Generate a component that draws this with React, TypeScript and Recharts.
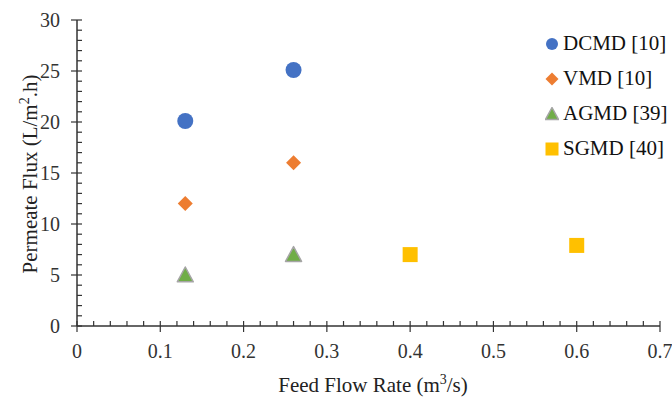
import { ScatterChart, Scatter, XAxis, YAxis, Label } from 'recharts'

const dcmd = [
  { x: 0.13, y: 20.1 },
  { x: 0.26, y: 25.1 },
]
const vmd = [
  { x: 0.13, y: 12 },
  { x: 0.26, y: 16 },
]
const agmd = [
  { x: 0.13, y: 5 },
  { x: 0.26, y: 7 },
]
const sgmd = [
  { x: 0.4, y: 7 },
  { x: 0.6, y: 7.9 },
]

const seriesNames = ['DCMD [10]', 'VMD [10]', 'AGMD [39]', 'SGMD [40]']
const seriesKinds = ['circle', 'diamond', 'triangle', 'square']
const COLORS = ['#4472C4', '#ED7D31', '#70AD47', '#FFC000']

const yTicks = Array.from({ length: 31 }, (_, i) => i)
const xTicks = Array.from({ length: 36 }, (_, i) => Math.round(i * 2) / 100)

const FONT = 'Liberation Serif, DejaVu Serif, Times New Roman, serif'
const AXIS = '#333'

function Marker({ kind, cx, cy, s }: { kind: string; cx: number; cy: number; s: number }) {
  const h = s / 2
  if (kind === 'circle') return <circle cx={cx} cy={cy} r={h} fill={COLORS[0]} />
  if (kind === 'diamond')
    return <polygon points={`${cx},${cy - h} ${cx + h},${cy} ${cx},${cy + h} ${cx - h},${cy}`} fill={COLORS[1]} />
  if (kind === 'triangle')
    return (
      <polygon
        points={`${cx},${cy - h} ${cx + h},${cy + h * 0.85} ${cx - h},${cy + h * 0.85}`}
        fill={COLORS[2]}
        stroke="#A5A5A5"
        strokeWidth={1.5}
        strokeLinejoin="round"
      />
    )
  return <rect x={cx - h} y={cy - h} width={s} height={s} fill={COLORS[3]} />
}

const YTick = ({ x, y, payload }: any) => {
  const v = payload.value
  const major = v % 5 === 0
  return (
    <g>
      <line x1={major ? x - 6 : x} x2={x + 5} y1={y} y2={y} stroke={AXIS} strokeWidth={1.2} />
      {major && (
        <text x={x - 17} y={y} dy={7} textAnchor="end" fontSize={20} style={{ fontFamily: FONT }} fill={AXIS}>
          {v}
        </text>
      )}
    </g>
  )
}

const XTick = ({ x, y, payload }: any) => {
  const v = payload.value
  const major = Math.abs(v * 10 - Math.round(v * 10)) < 1e-6
  return (
    <g>
      <line x1={x} x2={x} y1={y - 5} y2={major ? y + 6 : y} stroke={AXIS} strokeWidth={1.2} />
      {major && (
        <text x={x} y={y + 32} textAnchor="middle" fontSize={20} style={{ fontFamily: FONT }} fill={AXIS}>
          {v === 0 ? '0' : v.toFixed(1)}
        </text>
      )}
    </g>
  )
}

const LegendBox = () => (
  <div
    style={{
      position: 'absolute',
      left: 545,
      top: 26,
      fontFamily: FONT,
      fontSize: 21,
      color: '#111',
    }}
  >
    {seriesNames.map((n, i) => (
      <div key={n} style={{ display: 'flex', alignItems: 'center', height: 35 }}>
        <svg width={14} height={14} style={{ marginRight: 4 }}>
          <Marker kind={seriesKinds[i]} cx={7} cy={7} s={i === 0 ? 12 : 13} />
        </svg>
        <span>{n}</span>
      </div>
    ))}
  </div>
)

const shapeFor = (kind: string, s: number) => (p: any) => <Marker kind={kind} cx={p.cx} cy={p.cy} s={s} />

export default function App() {
  return (
    <div style={{ position: 'absolute', left: 0, top: 0, width: 672, height: 400, background: '#fff', fontFamily: FONT }}>
      <ScatterChart width={672} height={400} margin={{ top: 20, right: 12, bottom: 0, left: 0 }}>
        <XAxis
          type="number"
          dataKey="x"
          domain={[0, 0.7]}
          ticks={xTicks}
          interval={0}
          tickSize={0}
          tickMargin={0}
          tickLine={false}
          tick={<XTick />}
          axisLine={{ stroke: AXIS, strokeWidth: 1.5 }}
          height={74}
        >
          <Label
            content={() => (
              <text x={373} y={392} textAnchor="middle" fontSize={21} style={{ fontFamily: FONT }} fill="#222">
                Feed Flow Rate (m<tspan dy={-8} fontSize={14}>3</tspan>
                <tspan dy={8}>/s)</tspan>
              </text>
            )}
          />
        </XAxis>
        <YAxis
          type="number"
          dataKey="y"
          domain={[0, 30]}
          ticks={yTicks}
          interval={0}
          tickSize={0}
          tickMargin={0}
          tickLine={false}
          tick={<YTick />}
          axisLine={{ stroke: AXIS, strokeWidth: 1.5 }}
          width={77}
        >
          <Label
            content={() => (
              <text
                transform="translate(37, 174) rotate(-90)"
                textAnchor="middle"
                fontSize={21}
                style={{ fontFamily: FONT }}
                fill="#222"
              >
                Permeate Flux (L/m<tspan dy={-8} fontSize={14}>2</tspan>
                <tspan dy={8}>.h)</tspan>
              </text>
            )}
          />
        </YAxis>
        <Scatter name={seriesNames[0]} data={dcmd} shape={shapeFor('circle', 16)} isAnimationActive={false} />
        <Scatter name={seriesNames[1]} data={vmd} shape={shapeFor('diamond', 15)} isAnimationActive={false} />
        <Scatter name={seriesNames[2]} data={agmd} shape={shapeFor('triangle', 16)} isAnimationActive={false} />
        <Scatter name={seriesNames[3]} data={sgmd} shape={shapeFor('square', 15)} isAnimationActive={false} />
      </ScatterChart>
      <LegendBox />
    </div>
  )
}
